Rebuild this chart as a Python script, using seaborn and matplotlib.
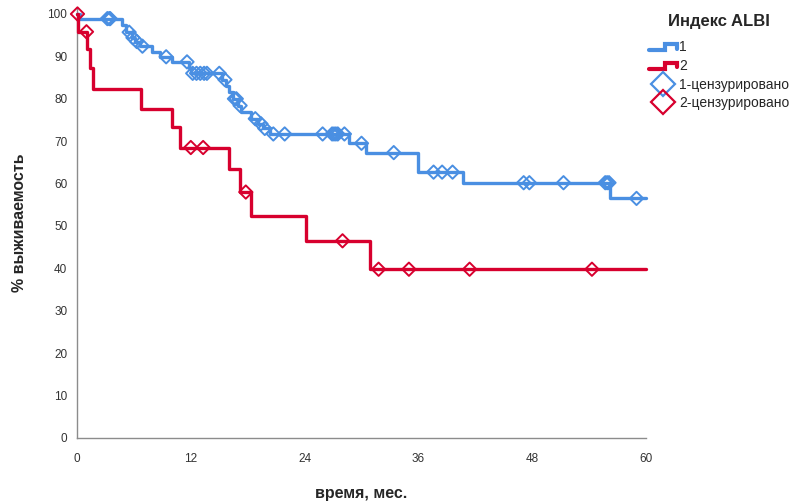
import numpy as np
import pandas as pd
import matplotlib
matplotlib.use("Agg")
import matplotlib.pyplot as plt
from matplotlib.lines import Line2D
from matplotlib.legend_handler import HandlerBase
import seaborn as sns

# Kaplan–Meier step data, ALBI group 1 (time in months, survival in %)
g1_time = [0, 0.3, 4.7, 5.2, 5.8, 6.1, 6.6, 7.9, 8.8, 10.0, 11.8, 12.0, 15.3, 15.7,
           16.0, 16.4, 17.0, 17.3, 18.4, 19.1, 19.6, 20.3, 28.7, 30.5, 36.0, 40.7, 56.2]
g1_surv = [100, 98.9, 97.3, 95.7, 94.4, 93.5, 92.4, 91.0, 89.9, 88.7, 87.3, 86.0, 84.5, 83.0,
           81.5, 80.0, 78.4, 76.9, 75.3, 74.1, 73.0, 71.7, 69.5, 67.3, 62.7, 60.2, 56.5]
g1_cens = [3.2, 3.4, 3.5, 5.5, 5.9, 6.3, 6.9, 9.4, 11.6, 12.2, 12.6, 13.0, 13.4, 13.7, 15.0,
           15.6, 16.6, 16.8, 17.2, 18.8, 19.4, 19.8, 20.7, 21.9, 25.9, 26.9, 27.1, 27.3, 27.5,
           28.2, 30.0, 33.4, 37.6, 38.5, 39.6, 47.1, 47.7, 51.3, 55.7, 55.9, 56.1, 59.0]

# Kaplan–Meier step data, ALBI group 2
g2_time = [0, 0.15, 1.05, 1.4, 1.7, 6.8, 10.0, 10.9, 16.0, 17.2, 18.4, 24.1, 30.9]
g2_surv = [100, 95.8, 91.7, 87.2, 82.2, 77.7, 73.3, 68.5, 63.4, 58.0, 52.3, 46.5, 39.8]
g2_cens = [0.05, 1.0, 12.0, 13.3, 17.8, 28.0, 31.8, 35.0, 41.4, 54.3]

follow_up = 60
x_ticks = [0, 12, 24, 36, 48, 60]
y_ticks = list(range(0, 101, 10))

BLUE = "#4a8fe2"
RED = "#d7002e"


def step_frame(t, s, end):
    return pd.DataFrame({"t": list(t) + [end], "s": list(s) + [s[-1]]})


def censor_frame(t, s, c):
    t = np.asarray(t)
    idx = np.searchsorted(t, np.asarray(c), side="right") - 1
    return pd.DataFrame({"t": c, "s": np.asarray(s)[idx]})


sns.set_style("white")
plt.rcParams["font.family"] = ["Liberation Sans", "DejaVu Sans"]

fig = plt.figure(figsize=(7.89, 5.01), dpi=100)
ax = fig.add_axes([77 / 789, 63 / 501, 569 / 789, 430.4 / 501])

for t, s, c, col in [(g1_time, g1_surv, g1_cens, BLUE), (g2_time, g2_surv, g2_cens, RED)]:
    sns.lineplot(data=step_frame(t, s, follow_up), x="t", y="s", estimator=None,
                 drawstyle="steps-post", color=col, linewidth=2.4, ax=ax,
                 clip_on=False, zorder=3)
    sns.scatterplot(data=censor_frame(t, s, c), x="t", y="s", marker="D", s=46,
                    facecolor="none", edgecolor=col, linewidth=1.4, ax=ax,
                    clip_on=False, zorder=4)

ax.set_xlim(0, follow_up)
ax.set_ylim(0, 101.5)
ax.set_xticks(x_ticks)
ax.set_yticks(y_ticks)
for side in ["top", "right"]:
    ax.spines[side].set_visible(False)
for side in ["left", "bottom"]:
    ax.spines[side].set_color("#8c8c8c")
    ax.spines[side].set_linewidth(1.0)
ax.tick_params(axis="both", which="major", length=5, width=0.9, color="#8c8c8c",
               labelsize=8.5, labelcolor="#333333", direction="out")
ax.tick_params(axis="x", pad=6)
ax.tick_params(axis="y", pad=2)
ax.set_xlabel("время, мес.", fontsize=11.5, fontweight="bold", labelpad=15)
ax.set_ylabel("% выживаемость", fontsize=11.5, fontweight="bold", labelpad=15)


class StepHandler(HandlerBase):
    def create_artists(self, legend, orig_handle, xdescent, ydescent, width, height,
                       fontsize, trans):
        x0, w, h = -xdescent, width, height
        xs = [x0, x0 + 0.55 * w, x0 + 0.55 * w, x0 + w, x0 + w]
        ys = [0.1 * h, 0.1 * h, 0.7 * h, 0.7 * h, 0.25 * h]
        ln = Line2D(xs, ys, color=orig_handle.get_color(), linewidth=3,
                    solid_joinstyle="miter", transform=trans)
        return [ln]


h1 = Line2D([], [], color=BLUE)
h2 = Line2D([], [], color=RED)
h3 = Line2D([], [], linestyle="none", marker="D", markersize=12, markerfacecolor="none",
            markeredgecolor=BLUE, markeredgewidth=1.6)
h4 = Line2D([], [], linestyle="none", marker="D", markersize=12, markerfacecolor="none",
            markeredgecolor=RED, markeredgewidth=1.6)
leg = fig.legend([h1, h2, h3, h4], ["1", "2", "1-цензурировано", "2-цензурировано"],
                 handler_map={h1: StepHandler(), h2: StepHandler()},
                 loc="upper left", bbox_to_anchor=(0.823, 0.972), frameon=False,
                 title="Индекс ALBI", fontsize=10, handlelength=2.0, handletextpad=0.15,
                 labelspacing=0.34, borderaxespad=0, borderpad=0)
leg.get_title().set_fontweight("bold")
leg.get_title().set_fontsize(12)
leg._legend_box.align = "center"
leg._legend_box.sep = 8

fig.savefig("out.png", dpi=100)
